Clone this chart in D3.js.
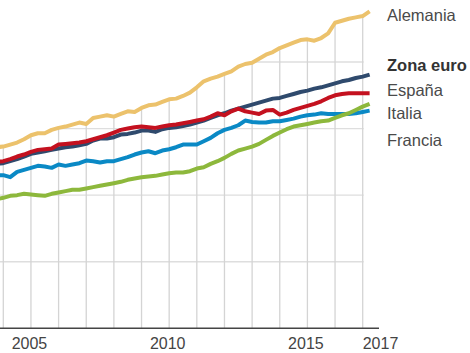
<!DOCTYPE html>
<html>
<head>
<meta charset="utf-8">
<script src="https://cdn.jsdelivr.net/npm/d3@7"></script>
<style>
  html, body { margin: 0; padding: 0; background: #fff; }
  svg { display: block; }
</style>
</head>
<body>
<svg id="chart" width="470" height="353"></svg>
<script>
// Quarterly periods (decimal years) from 2003 Q4 to 2017 Q2
const periods = d3.range(0, 55).map(i => 2003.75 + i * 0.25);

const alemania = [97.2,97.3,97.6,97.9,98.4,99.0,99.3,99.3,99.8,100.1,100.3,100.6,100.9,100.7,101.6,101.8,102.0,101.8,102.2,102.6,102.5,103.1,103.5,103.6,104.0,104.4,104.5,104.9,105.4,106.2,107.1,107.5,107.8,108.2,108.6,109.3,109.7,109.9,110.5,111.1,111.5,112.1,112.5,112.9,113.3,113.4,113.2,113.6,114.3,115.9,116.2,116.5,116.7,116.9,117.6];
const zonaEuro = [94.7,94.8,95.1,95.4,95.8,96.2,96.4,96.6,96.8,97.0,97.2,97.3,97.5,97.7,98.2,98.5,98.5,98.7,99.1,99.2,99.4,99.7,99.7,99.5,99.9,100.1,100.2,100.4,100.6,100.9,101.2,101.6,102.0,102.3,102.7,103.0,103.3,103.6,103.9,104.2,104.5,104.6,104.9,105.2,105.5,105.7,106.0,106.2,106.5,106.8,107.1,107.3,107.6,107.8,108.1];
const espana = [95.0,95.1,95.4,95.8,96.1,96.5,96.8,96.9,97.0,97.6,97.7,97.8,97.9,98.1,98.4,98.7,99.0,99.4,99.8,100.0,100.2,100.3,100.2,100.1,100.3,100.5,100.6,100.8,101.0,101.2,101.4,101.8,102.3,102.0,102.6,103.0,102.6,102.4,102.2,102.7,102.8,102.1,102.4,102.8,103.1,103.4,103.7,104.1,104.6,105.0,105.2,105.3,105.3,105.3,105.3];
const italia = [93.0,93.0,92.7,93.5,93.8,94.1,94.4,94.3,94.1,94.6,94.4,94.6,94.8,95.2,95.1,94.9,95.1,95.1,95.4,95.7,96.1,96.4,96.6,96.3,96.7,96.9,97.2,97.6,97.6,97.6,98.1,98.6,99.3,99.8,100.1,100.5,101.2,101.0,100.9,100.9,101.1,101.1,101.3,101.5,101.8,102.0,102.1,102.3,102.2,102.2,102.2,102.2,102.3,102.5,102.7];
const francia = [89.4,89.6,89.9,90.0,90.2,90.1,90.0,89.9,90.2,90.4,90.6,90.8,90.8,91.0,91.2,91.4,91.6,91.8,92.0,92.3,92.5,92.7,92.8,92.9,93.1,93.3,93.4,93.4,93.6,94.0,94.2,94.7,95.1,95.6,96.2,96.7,97.0,97.3,97.7,98.3,98.9,99.4,99.9,100.3,100.5,100.7,100.9,101.1,101.2,101.6,102.0,102.3,102.8,103.3,103.7];

const yearTicks = [2005, 2010, 2015, 2017];
const gridYears = d3.range(2004, 2018);
const gridValues = [80, 90, 100, 110];

const seriesNames = ["Alemania", "Zona euro", "España", "Italia", "Francia"];
const seriesColors = ["#ecc26c", "#2f4a6d", "#c4111f", "#0a89c5", "#8db83c"];
const seriesValues = [alemania, zonaEuro, espana, italia, francia];

const svg = d3.select("#chart");
const x = d3.scaleLinear().domain([2004, 2017]).range([3.3, 362.7]);
const y = d3.scaleLinear().domain([70, 110]).range([328.3, 62]);

const topData = periods.map((p, i) => ({ t: p, v: alemania[i] }));

// clip: area under the top series
svg.append("defs").append("clipPath").attr("id", "under")
  .append("path")
  .attr("d", d3.area().x(d => x(d.t)).y0(y(70)).y1(d => y(d.v))(topData));

const grid = svg.append("g").attr("clip-path", "url(#under)");
grid.selectAll("line.h").data(gridValues).join("line")
  .attr("class", "h")
  .attr("x1", 0).attr("x2", x(2017) + 1)
  .attr("y1", d => y(d)).attr("y2", d => y(d))
  .attr("stroke", "#dedede").attr("stroke-width", 1.4);
grid.selectAll("line.v").data(gridYears).join("line")
  .attr("class", "v")
  .attr("x1", d => x(d)).attr("x2", d => x(d))
  .attr("y1", 0).attr("y2", y(70))
  .attr("stroke", "#d4d4d4").attr("stroke-width", 1.3);

// axis line
svg.append("line")
  .attr("x1", 0).attr("x2", 379)
  .attr("y1", y(70)).attr("y2", y(70))
  .attr("stroke", "#444").attr("stroke-width", 1.4);

// year labels
svg.selectAll("text.year").data(yearTicks).join("text")
  .attr("class", "year")
  .attr("x", d => d === 2017 ? x(d) : x(d) - 1.5)
  .attr("y", 349)
  .attr("text-anchor", d => d === 2017 ? "start" : "middle")
  .attr("font-family", "Liberation Sans, Arial, sans-serif")
  .attr("font-size", 16)
  .attr("fill", "#444")
  .text(d => d);

// lines
const line = d3.line().x(d => x(d.t)).y(d => y(d.v));
const drawOrder = [3, 4, 1, 2, 0];
drawOrder.forEach(k => {
  const data = periods.map((p, i) => ({ t: p, v: seriesValues[k][i] }));
  svg.append("path")
    .attr("d", line(data))
    .attr("fill", "none")
    .attr("stroke", seriesColors[k])
    .attr("stroke-width", 4)
    .attr("stroke-linejoin", "round");
});

// labels
const labelY = [20.7, 70.7, 95.7, 119.2, 145.7];
seriesNames.forEach((n, k) => {
  svg.append("text")
    .attr("x", 387)
    .attr("y", labelY[k])
    .attr("font-family", "Liberation Sans, Arial, sans-serif")
    .attr("font-size", 16.5)
    .attr("font-weight", k === 1 ? "bold" : "normal")
    .attr("fill", k === 1 ? "#333" : "#4a4a4a")
    .text(n);
});
</script>
</body>
</html>
